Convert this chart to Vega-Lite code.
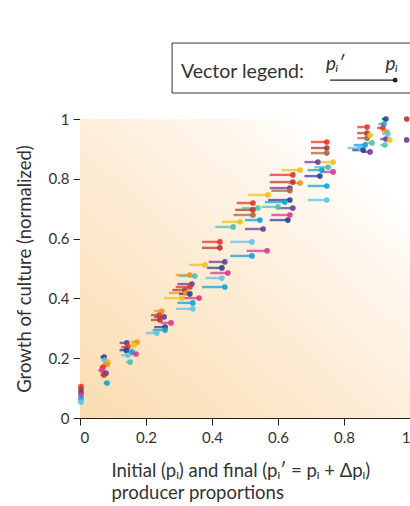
{
  "$schema": "https://vega.github.io/schema/vega-lite/v6.json",
  "width": 330,
  "height": 299,
  "autosize": {"type": "none"},
  "padding": {"left": 80, "top": 119, "right": 0, "bottom": 88},
  "background": "white",
  "config": {
    "view": {"stroke": null},
    "font": "Lato",
    "axis": {
      "grid": false,
      "domainColor": "#222",
      "tickColor": "#222",
      "tickSize": 7,
      "labelFont": "Lato",
      "labelFontSize": 15,
      "labelColor": "#333",
      "titleFont": "Lato",
      "titleFontSize": 18.5,
      "titleFontWeight": "normal",
      "titleColor": "#333"
    }
  },
  "datasets": {
    "vectors": [
      {"c": "red", "p": 0.003, "q": 0, "g": 0.105},
      {"c": "darkred", "p": 0.003, "q": 0, "g": 0.095},
      {"c": "purple", "p": 0.003, "q": 0, "g": 0.085},
      {"c": "magenta", "p": 0.003, "q": 0, "g": 0.075},
      {"c": "cyan", "p": 0.003, "q": 0, "g": 0.063},
      {"c": "skyblue", "p": 0.003, "q": 0, "g": 0.053},
      {"c": "navy", "p": 0.073, "q": 0.062, "g": 0.204},
      {"c": "skyblue", "p": 0.075, "q": 0.064, "g": 0.194},
      {"c": "yellow", "p": 0.085, "q": 0.073, "g": 0.187},
      {"c": "orange", "p": 0.082, "q": 0.07, "g": 0.18},
      {"c": "red", "p": 0.07, "q": 0.06, "g": 0.17},
      {"c": "magenta", "p": 0.067, "q": 0.056, "g": 0.16},
      {"c": "purple", "p": 0.079, "q": 0.068, "g": 0.15},
      {"c": "darkred", "p": 0.073, "q": 0.062, "g": 0.144},
      {"c": "cyan", "p": 0.082, "q": 0.072, "g": 0.117},
      {"c": "purple", "p": 0.142, "q": 0.12, "g": 0.251},
      {"c": "orange", "p": 0.173, "q": 0.155, "g": 0.254},
      {"c": "yellow", "p": 0.164, "q": 0.15, "g": 0.244},
      {"c": "red", "p": 0.145, "q": 0.125, "g": 0.237},
      {"c": "navy", "p": 0.14, "q": 0.12, "g": 0.227},
      {"c": "cyan", "p": 0.158, "q": 0.135, "g": 0.221},
      {"c": "magenta", "p": 0.17, "q": 0.15, "g": 0.214},
      {"c": "skyblue", "p": 0.145, "q": 0.125, "g": 0.21},
      {"c": "teal", "p": 0.152, "q": 0.14, "g": 0.187},
      {"c": "orange", "p": 0.248, "q": 0.225, "g": 0.358},
      {"c": "red", "p": 0.24, "q": 0.215, "g": 0.344},
      {"c": "purple", "p": 0.255, "q": 0.225, "g": 0.338},
      {"c": "darkred", "p": 0.242, "q": 0.215, "g": 0.328},
      {"c": "magenta", "p": 0.276, "q": 0.245, "g": 0.318},
      {"c": "navy", "p": 0.258, "q": 0.225, "g": 0.304},
      {"c": "cyan", "p": 0.258, "q": 0.22, "g": 0.294},
      {"c": "skyblue", "p": 0.233, "q": 0.2, "g": 0.284},
      {"c": "purple", "p": 0.339, "q": 0.295, "g": 0.448},
      {"c": "red", "p": 0.333, "q": 0.29, "g": 0.438},
      {"c": "darkred", "p": 0.318, "q": 0.28, "g": 0.428},
      {"c": "orange", "p": 0.321, "q": 0.27, "g": 0.418},
      {"c": "navy", "p": 0.333, "q": 0.3, "g": 0.415},
      {"c": "yellow", "p": 0.309, "q": 0.255, "g": 0.401},
      {"c": "magenta", "p": 0.361, "q": 0.31, "g": 0.401},
      {"c": "cyan", "p": 0.342, "q": 0.295, "g": 0.385},
      {"c": "skyblue", "p": 0.342, "q": 0.29, "g": 0.365},
      {"c": "orange", "p": 0.333, "q": 0.29, "g": 0.478},
      {"c": "teal", "p": 0.348, "q": 0.3, "g": 0.475},
      {"c": "yellow", "p": 0.379, "q": 0.33, "g": 0.512},
      {"c": "purple", "p": 0.439, "q": 0.39, "g": 0.522},
      {"c": "navy", "p": 0.43, "q": 0.385, "g": 0.502},
      {"c": "magenta", "p": 0.448, "q": 0.395, "g": 0.485},
      {"c": "skyblue", "p": 0.43, "q": 0.38, "g": 0.468},
      {"c": "cyan", "p": 0.439, "q": 0.37, "g": 0.438},
      {"c": "red", "p": 0.424, "q": 0.37, "g": 0.589},
      {"c": "darkred", "p": 0.424, "q": 0.37, "g": 0.569},
      {"c": "yellow", "p": 0.57, "q": 0.51, "g": 0.746},
      {"c": "red", "p": 0.524, "q": 0.475, "g": 0.719},
      {"c": "teal", "p": 0.539, "q": 0.49, "g": 0.702},
      {"c": "darkred", "p": 0.524, "q": 0.47, "g": 0.696},
      {"c": "brown", "p": 0.524, "q": 0.465, "g": 0.679},
      {"c": "yellow", "p": 0.485, "q": 0.43, "g": 0.656},
      {"c": "cyan", "p": 0.545, "q": 0.5, "g": 0.662},
      {"c": "teal", "p": 0.464, "q": 0.41, "g": 0.639},
      {"c": "purple", "p": 0.555, "q": 0.5, "g": 0.632},
      {"c": "skyblue", "p": 0.521, "q": 0.455, "g": 0.589},
      {"c": "magenta", "p": 0.567, "q": 0.505, "g": 0.559},
      {"c": "cyan", "p": 0.521, "q": 0.455, "g": 0.542},
      {"c": "yellow", "p": 0.667, "q": 0.61, "g": 0.829},
      {"c": "red", "p": 0.645, "q": 0.575, "g": 0.813},
      {"c": "darkred", "p": 0.645, "q": 0.575, "g": 0.789},
      {"c": "orange", "p": 0.667, "q": 0.63, "g": 0.786},
      {"c": "purple", "p": 0.636, "q": 0.575, "g": 0.769},
      {"c": "brown", "p": 0.636, "q": 0.58, "g": 0.76},
      {"c": "navy", "p": 0.636, "q": 0.57, "g": 0.729},
      {"c": "cyan", "p": 0.621, "q": 0.56, "g": 0.722},
      {"c": "teal", "p": 0.6, "q": 0.55, "g": 0.706},
      {"c": "purple", "p": 0.645, "q": 0.6, "g": 0.702},
      {"c": "magenta", "p": 0.636, "q": 0.58, "g": 0.679},
      {"c": "navy", "p": 0.63, "q": 0.575, "g": 0.662},
      {"c": "red", "p": 0.748, "q": 0.7, "g": 0.923},
      {"c": "darkred", "p": 0.748, "q": 0.7, "g": 0.903},
      {"c": "brown", "p": 0.748, "q": 0.7, "g": 0.886},
      {"c": "purple", "p": 0.721, "q": 0.68, "g": 0.856},
      {"c": "yellow", "p": 0.767, "q": 0.73, "g": 0.856},
      {"c": "teal", "p": 0.752, "q": 0.71, "g": 0.839},
      {"c": "cyan", "p": 0.733, "q": 0.69, "g": 0.829},
      {"c": "magenta", "p": 0.767, "q": 0.73, "g": 0.823},
      {"c": "navy", "p": 0.727, "q": 0.68, "g": 0.809},
      {"c": "cyan", "p": 0.748, "q": 0.69, "g": 0.776},
      {"c": "skyblue", "p": 0.748, "q": 0.69, "g": 0.729},
      {"c": "red", "p": 0.87, "q": 0.84, "g": 0.973},
      {"c": "darkred", "p": 0.87, "q": 0.84, "g": 0.953},
      {"c": "brown", "p": 0.87, "q": 0.84, "g": 0.936},
      {"c": "yellow", "p": 0.879, "q": 0.86, "g": 0.946},
      {"c": "teal", "p": 0.885, "q": 0.86, "g": 0.92},
      {"c": "cyan", "p": 0.864, "q": 0.83, "g": 0.913},
      {"c": "skyblue", "p": 0.848, "q": 0.81, "g": 0.903},
      {"c": "navy", "p": 0.858, "q": 0.825, "g": 0.896},
      {"c": "purple", "p": 0.879, "q": 0.855, "g": 0.89},
      {"c": "navy", "p": 0.927, "q": 0.915, "g": 1.0},
      {"c": "cyan", "p": 0.921, "q": 0.905, "g": 0.983},
      {"c": "red", "p": 0.918, "q": 0.9, "g": 0.97},
      {"c": "orange", "p": 0.93, "q": 0.915, "g": 0.957},
      {"c": "skyblue", "p": 0.933, "q": 0.915, "g": 0.95},
      {"c": "purple", "p": 0.927, "q": 0.91, "g": 0.933},
      {"c": "yellow", "p": 0.939, "q": 0.925, "g": 0.93},
      {"c": "teal", "p": 0.924, "q": 0.91, "g": 0.913},
      {"c": "darkred", "p": 0.99, "q": 0.985, "g": 1.0},
      {"c": "purple", "p": 0.99, "q": 0.985, "g": 0.93}
    ]
  },
  "layer": [
    {
      "data": {"values": [{}]},
      "mark": {
        "type": "rect",
        "fill": {
          "gradient": "linear",
          "x1": 0, "y1": 1, "x2": 1, "y2": 0,
          "stops": [
            {"offset": 0, "color": "#fadcb0"},
            {"offset": 0.45, "color": "#fdecd5"},
            {"offset": 0.72, "color": "#fef7ee"},
            {"offset": 0.85, "color": "#ffffff"},
            {"offset": 1, "color": "#ffffff"}
          ]
        }
      },
      "encoding": {
        "x": {"datum": 0, "type": "quantitative", "scale": {"domain": [0, 1], "nice": false},
          "axis": {"values": [0, 0.2, 0.4, 0.6, 0.8, 1], "format": "~g", "labelPadding": 5,
            "title": ["Initial (pᵢ) and final (pᵢ′ = pᵢ + Δpᵢ)", "producer proportions"],
            "titleAlign": "left", "titleAnchor": "start", "titleX": 31, "titleY": 43, "titleBaseline": "top", "titleLineHeight": 22}},
        "x2": {"datum": 1},
        "y": {"datum": 0, "type": "quantitative", "scale": {"domain": [0, 1], "nice": false},
          "axis": {"values": [0, 0.2, 0.4, 0.6, 0.8, 1], "format": "~g", "labelPadding": 4,
            "title": "Growth of culture (normalized)", "titlePadding": 14}},
        "y2": {"datum": 1}
      }
    },
    {
      "data": {"name": "vectors"},
      "mark": {"type": "rule", "strokeWidth": 2.4, "opacity": 0.75},
      "encoding": {
        "x": {"field": "q", "type": "quantitative"},
        "x2": {"field": "p"},
        "y": {"field": "g", "type": "quantitative"},
        "color": {"field": "c", "type": "nominal", "legend": null,
          "scale": {
            "domain": ["red", "darkred", "brown", "orange", "yellow", "teal", "cyan", "skyblue", "navy", "purple", "magenta"],
            "range": ["#e5352b", "#b53a2f", "#a8674a", "#f3921e", "#efc21c", "#4fc3ac", "#0fa3d9", "#5cc4ee", "#2e4196", "#6b3f98", "#d93a8c"]
          }}
      }
    },
    {
      "data": {"name": "vectors"},
      "mark": {"type": "circle", "size": 32, "opacity": 0.9},
      "encoding": {
        "x": {"field": "p", "type": "quantitative"},
        "y": {"field": "g", "type": "quantitative"},
        "color": {"field": "c", "type": "nominal", "legend": null}
      }
    },
    {
      "data": {"values": [{}]},
      "mark": {"type": "rect", "fill": "white", "stroke": "#333", "strokeWidth": 1},
      "encoding": {
        "x": {"datum": 0.279}, "x2": {"datum": 1.05},
        "y": {"datum": 1.087}, "y2": {"datum": 1.254}
      }
    },
    {
      "data": {"values": [{}]},
      "mark": {"type": "text", "align": "left", "baseline": "middle", "fontSize": 19.5, "color": "#333", "font": "Lato"},
      "encoding": {
        "x": {"datum": 0.306}, "y": {"datum": 1.157},
        "text": {"value": "Vector legend:"}
      }
    },
    {
      "data": {"values": [{"t": "pᵢ′", "x": 0.773}, {"t": "pᵢ", "x": 0.945}]},
      "mark": {"type": "text", "align": "center", "baseline": "middle", "fontSize": 19, "fontStyle": "italic", "color": "#333", "font": "Lato"},
      "encoding": {
        "x": {"field": "x", "type": "quantitative"}, "y": {"datum": 1.185},
        "text": {"field": "t"}
      }
    },
    {
      "data": {"values": [{}]},
      "mark": {"type": "rule", "color": "#222", "strokeWidth": 1.3},
      "encoding": {
        "x": {"datum": 0.758}, "x2": {"datum": 0.955},
        "y": {"datum": 1.13}
      }
    },
    {
      "data": {"values": [{}]},
      "mark": {"type": "circle", "color": "#222", "size": 22, "opacity": 1},
      "encoding": {
        "x": {"datum": 0.955}, "y": {"datum": 1.13}
      }
    }
  ]
}
